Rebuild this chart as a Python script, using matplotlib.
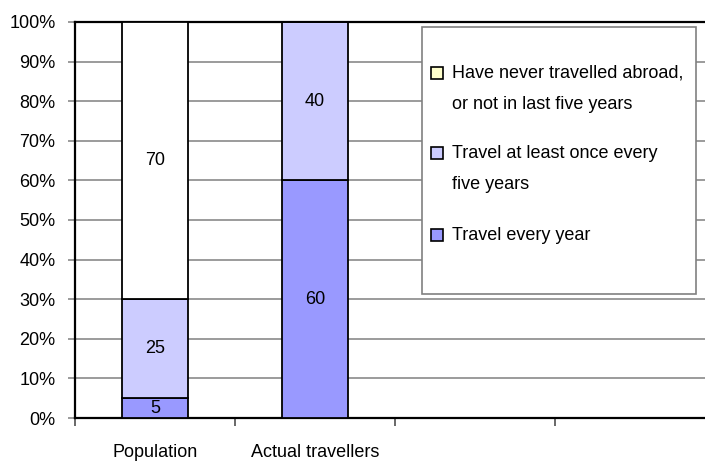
import numpy as np
import matplotlib.pyplot as plt
from matplotlib.patches import Rectangle

plt.rcParams['font.family'] = ['Liberation Sans', 'DejaVu Sans']

categories = ['Population', 'Actual travellers']
n_slots = 4
every_year = [5, 60]
once_five = [25, 40]
never = [70, 0]
series_names = ['Have never travelled abroad,\nor not in last five years',
                'Travel at least once every\nfive years',
                'Travel every year']
legend_colors = ['#FFFFCC', '#CCCCFF', '#9999FF']
yticks = np.arange(0, 101, 10)

W, H = 705, 465
fs = 13
fig = plt.figure(figsize=(W / 100, H / 100), dpi=100)
ax = fig.add_axes([75 / W, 47 / H, 640 / W, 396 / H])

x = np.arange(len(categories)) + 0.5
bw = 0.41
bottom = np.zeros(len(categories))
for vals, col in [(every_year, '#9999FF'), (once_five, '#CCCCFF'), (never, 'white')]:
    vals = np.array(vals, dtype=float)
    ax.bar(x, vals, bw, bottom=bottom, color=col, edgecolor='black', linewidth=1.3, zorder=3)
    for xi, b, v in zip(x, bottom, vals):
        if v > 0:
            ax.text(xi, b + v / 2, f'{v:g}', ha='center', va='center', fontsize=fs, zorder=4)
    bottom += vals

ax.set_xlim(0, n_slots)
ax.set_ylim(0, 100)
ax.set_yticks(yticks)
ax.set_yticklabels([f'{v}%' for v in yticks], fontsize=fs)
ax.yaxis.grid(True, color='#808080', linewidth=1.1)
ax.set_axisbelow(True)
ax.tick_params(axis='y', length=5, width=1.1, color='#808080', pad=9)

ax.set_xticks(np.arange(n_slots + 1))
ax.set_xticklabels([])
ax.tick_params(axis='x', which='major', length=6, width=1.1, color='#404040')
ax.set_xticks(x, minor=True)
ax.set_xticklabels(categories, minor=True, fontsize=fs)
ax.tick_params(axis='x', which='minor', length=0, pad=19)

for s in ['left', 'bottom', 'top']:
    ax.spines[s].set_linewidth(1.6)
    ax.spines[s].set_color('black')
ax.spines['right'].set_visible(False)

# legend box
def fx(px):
    return px / W

def fy(py):
    return 1 - py / H

fig.patches.append(Rectangle((fx(422), fy(294)), fx(696) - fx(422), fy(27) - fy(294),
                             transform=fig.transFigure, facecolor='white',
                             edgecolor='#808080', linewidth=1.2, zorder=5))
item_y = [73, 153, 235]
for name, col, py in zip(series_names, legend_colors, item_y):
    fig.patches.append(Rectangle((fx(431), fy(py + 6)), fx(443) - fx(431), fy(py - 6) - fy(py + 6),
                                 transform=fig.transFigure, facecolor=col,
                                 edgecolor='black', linewidth=1.2, zorder=6))
    fig.text(fx(452), fy(py - 8), name, ha='left', va='top', fontsize=fs,
             linespacing=2.05, zorder=7)

fig.savefig('out.png', dpi=100)
